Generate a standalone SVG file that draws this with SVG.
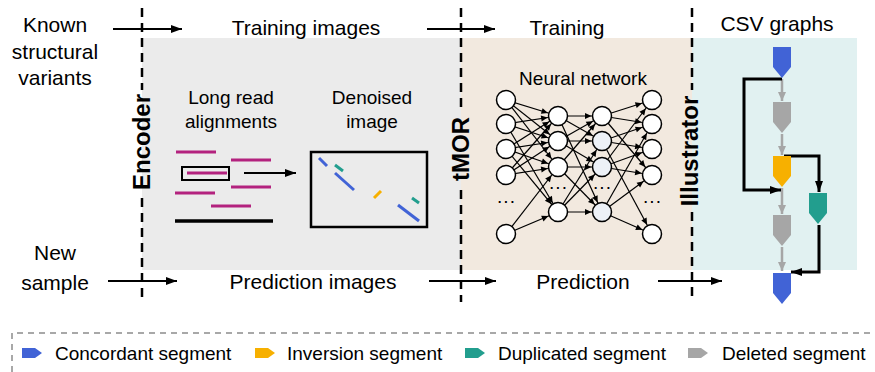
<svg xmlns="http://www.w3.org/2000/svg" width="875" height="372" viewBox="0 0 875 372">
<style>
  text { font-family: "Liberation Sans", Arial, sans-serif; fill: #000; }
  .lbl { font-size: 21px; }
  .in { font-size: 19px; }
  .rot { font-size: 24px; font-weight: bold; }
  .leg { font-size: 19px; }
  .dash { stroke: #000; stroke-width: 2.5; stroke-dasharray: 9 6; fill: none; }
  .arr { stroke: #000; stroke-width: 2; fill: none; marker-end: url(#ah); }
  .nn { stroke: #000; stroke-width: 1.2; fill: none; marker-end: url(#nh); }
  .node { fill: #fff; stroke: #000; stroke-width: 1.5; }
  .node2 { fill: #edf1f7; stroke: #000; stroke-width: 1.5; }
  .mag { stroke: #b3227e; stroke-width: 3; }
  .seg { stroke-width: 3; stroke-linecap: butt; }
  .garr { stroke: #a6a6a6; stroke-width: 2.5; fill: none; marker-end: url(#gh); }
  .barr { stroke: #000; stroke-width: 3; fill: none; marker-end: url(#bh); }
</style>
<defs>
  <marker id="ah" markerUnits="userSpaceOnUse" markerWidth="12" markerHeight="10" refX="11" refY="5" orient="auto" overflow="visible">
    <path d="M0,1 L11,5 L0,9 Z" fill="#000"/>
  </marker>
  <marker id="nh" markerUnits="userSpaceOnUse" markerWidth="22" markerHeight="8" refX="20.5" refY="3" orient="auto" overflow="visible">
    <path d="M3.5,0 L10,3 L3.5,6 Z" fill="#000"/>
  </marker>
  <marker id="gh" markerUnits="userSpaceOnUse" markerWidth="10" markerHeight="10" refX="9" refY="4.5" orient="auto" overflow="visible">
    <path d="M0,0.5 L9,4.5 L0,8.5 Z" fill="#a6a6a6"/>
  </marker>
  <marker id="bh" markerUnits="userSpaceOnUse" markerWidth="12" markerHeight="10" refX="11" refY="5" orient="auto" overflow="visible">
    <path d="M0,1 L11,5 L0,9 Z" fill="#000"/>
  </marker>
</defs>

<g id="backgrounds">
  <rect x="142" y="38" width="319" height="232" fill="#ebebeb"/>
  <rect x="461" y="38" width="231" height="232" fill="#f2e9df"/>
  <rect x="692" y="38" width="165" height="232" fill="#e1f1f1"/>
</g>

<g id="dividers">
  <line class="dash" x1="142" y1="8" x2="142" y2="90"/>
  <line class="dash" x1="142" y1="198" x2="142" y2="302"/>
  <line class="dash" x1="461" y1="8" x2="461" y2="108"/>
  <line class="dash" x1="461" y1="190" x2="461" y2="302"/>
  <line class="dash" x1="692" y1="8" x2="692" y2="90"/>
  <line class="dash" x1="692" y1="212" x2="692" y2="302"/>
</g>

<g id="stage-labels">
  <text class="rot" text-anchor="middle" transform="translate(150,142) rotate(-90)">Encoder</text>
  <text class="rot" text-anchor="middle" transform="translate(469,149) rotate(-90)">tMOR</text>
  <text class="rot" text-anchor="middle" transform="translate(698,151) rotate(-90)">Illustrator</text>
</g>

<g id="io-labels">
  <text class="lbl" text-anchor="middle" x="55" y="32">Known</text>
  <text class="lbl" text-anchor="middle" x="55" y="59">structural</text>
  <text class="lbl" text-anchor="middle" x="55" y="85">variants</text>
  <text class="lbl" text-anchor="middle" x="306" y="35">Training images</text>
  <text class="lbl" text-anchor="middle" x="567" y="35">Training</text>
  <text class="lbl" text-anchor="middle" x="777" y="31">CSV graphs</text>
  <text class="lbl" text-anchor="middle" x="55" y="260">New</text>
  <text class="lbl" text-anchor="middle" x="55" y="290">sample</text>
  <text class="lbl" text-anchor="middle" x="313" y="289">Prediction images</text>
  <text class="lbl" text-anchor="middle" x="583" y="289">Prediction</text>
</g>

<g id="encoder-panel">
  <text class="in" text-anchor="middle" x="231" y="104">Long read</text>
  <text class="in" text-anchor="middle" x="231" y="128">alignments</text>
  <line class="mag" x1="176" y1="152" x2="216" y2="152"/>
  <line class="mag" x1="231" y1="160" x2="271" y2="160"/>
  <line class="mag" x1="187" y1="173" x2="227" y2="173"/>
  <rect x="182" y="167" width="47" height="13" fill="none" stroke="#000" stroke-width="2"/>
  <line class="mag" x1="231" y1="187" x2="271" y2="187"/>
  <line class="mag" x1="175" y1="193" x2="215" y2="193"/>
  <line class="mag" x1="211" y1="206" x2="251" y2="206"/>
  <line x1="175" y1="221" x2="273" y2="221" stroke="#000" stroke-width="3.5"/>
  <text class="in" text-anchor="middle" x="372" y="104">Denoised</text>
  <text class="in" text-anchor="middle" x="372" y="128">image</text>
  <rect x="311" y="152" width="116" height="75" fill="none" stroke="#000" stroke-width="2.5"/>
  <line class="seg" stroke="#4163d6" x1="319" y1="158" x2="327" y2="166"/>
  <line class="seg" stroke="#229e8e" x1="335" y1="165" x2="343" y2="171"/>
  <line class="seg" stroke="#4163d6" x1="335" y1="173" x2="354" y2="190"/>
  <line class="seg" stroke="#f7b000" x1="374" y1="198" x2="381" y2="191"/>
  <line class="seg" stroke="#229e8e" x1="412" y1="198" x2="419" y2="203"/>
  <line class="seg" stroke="#4163d6" x1="398" y1="205" x2="419" y2="221"/>
</g>

<g id="connectors">
  <line class="arr" x1="113" y1="29" x2="182" y2="29"/>
  <line class="arr" x1="427" y1="29" x2="495" y2="29"/>
  <line class="arr" x1="108" y1="281" x2="177" y2="281"/>
  <line class="arr" x1="429" y1="281" x2="496" y2="281"/>
  <line class="arr" x1="658" y1="281" x2="722" y2="281"/>
  <line class="arr" x1="244" y1="173" x2="296" y2="173"/>
  <line class="nn" x1="506" y1="100" x2="558" y2="116"/>
  <line class="nn" x1="506" y1="100" x2="558" y2="141"/>
  <line class="nn" x1="506" y1="100" x2="558" y2="167"/>
  <line class="nn" x1="506" y1="124" x2="558" y2="116"/>
  <line class="nn" x1="506" y1="124" x2="558" y2="141"/>
  <line class="nn" x1="506" y1="124" x2="558" y2="212"/>
  <line class="nn" x1="506" y1="149" x2="558" y2="116"/>
  <line class="nn" x1="506" y1="149" x2="558" y2="141"/>
  <line class="nn" x1="506" y1="149" x2="558" y2="167"/>
  <line class="nn" x1="506" y1="149" x2="558" y2="212"/>
  <line class="nn" x1="506" y1="175" x2="558" y2="116"/>
  <line class="nn" x1="506" y1="175" x2="558" y2="141"/>
  <line class="nn" x1="506" y1="175" x2="558" y2="167"/>
  <line class="nn" x1="506" y1="234" x2="558" y2="167"/>
  <line class="nn" x1="506" y1="234" x2="558" y2="212"/>
  <line class="nn" x1="558" y1="116" x2="602" y2="116"/>
  <line class="nn" x1="558" y1="116" x2="602" y2="141"/>
  <line class="nn" x1="558" y1="116" x2="602" y2="212"/>
  <line class="nn" x1="558" y1="141" x2="602" y2="116"/>
  <line class="nn" x1="558" y1="141" x2="602" y2="141"/>
  <line class="nn" x1="558" y1="141" x2="602" y2="167"/>
  <line class="nn" x1="558" y1="167" x2="602" y2="116"/>
  <line class="nn" x1="558" y1="167" x2="602" y2="167"/>
  <line class="nn" x1="558" y1="167" x2="602" y2="212"/>
  <line class="nn" x1="558" y1="212" x2="602" y2="141"/>
  <line class="nn" x1="558" y1="212" x2="602" y2="167"/>
  <line class="nn" x1="558" y1="212" x2="602" y2="212"/>
  <line class="nn" x1="602" y1="116" x2="652" y2="100"/>
  <line class="nn" x1="602" y1="116" x2="652" y2="124"/>
  <line class="nn" x1="602" y1="116" x2="652" y2="175"/>
  <line class="nn" x1="602" y1="141" x2="652" y2="124"/>
  <line class="nn" x1="602" y1="141" x2="652" y2="149"/>
  <line class="nn" x1="602" y1="141" x2="652" y2="234"/>
  <line class="nn" x1="602" y1="167" x2="652" y2="100"/>
  <line class="nn" x1="602" y1="167" x2="652" y2="149"/>
  <line class="nn" x1="602" y1="167" x2="652" y2="175"/>
  <line class="nn" x1="602" y1="212" x2="652" y2="124"/>
  <line class="nn" x1="602" y1="212" x2="652" y2="175"/>
  <line class="nn" x1="602" y1="212" x2="652" y2="234"/>
  <line class="garr" x1="782" y1="79" x2="782" y2="101"/>
  <line class="garr" x1="782" y1="134" x2="782" y2="155"/>
  <line class="garr" x1="782" y1="188" x2="782" y2="214"/>
  <line class="garr" x1="782" y1="247" x2="782" y2="271"/>
  <path class="barr" d="M782,79 H744 V190 H781"/>
  <path class="barr" d="M784,156 H819 V192"/>
  <path class="barr" d="M819,225 V272 H791"/>
</g>

<g id="neural-network">
  <text class="in" text-anchor="middle" x="583" y="85">Neural network</text>
  <circle class="node" cx="506" cy="100" r="9.5"/>
  <circle class="node" cx="506" cy="124" r="9.5"/>
  <circle class="node" cx="506" cy="149" r="9.5"/>
  <circle class="node" cx="506" cy="175" r="9.5"/>
  <circle class="node" cx="506" cy="234" r="9.5"/>
  <circle class="node" cx="558" cy="116" r="9.5"/>
  <circle class="node" cx="558" cy="141" r="9.5"/>
  <circle class="node" cx="558" cy="167" r="9.5"/>
  <circle class="node" cx="558" cy="212" r="9.5"/>
  <circle class="node" cx="602" cy="116" r="9.5"/>
  <circle class="node2" cx="602" cy="141" r="9.5"/>
  <circle class="node2" cx="602" cy="167" r="9.5"/>
  <circle class="node2" cx="602" cy="212" r="9.5"/>
  <circle class="node" cx="652" cy="100" r="9.5"/>
  <circle class="node" cx="652" cy="124" r="9.5"/>
  <circle class="node" cx="652" cy="149" r="9.5"/>
  <circle class="node" cx="652" cy="175" r="9.5"/>
  <circle class="node" cx="652" cy="234" r="9.5"/>
  <text class="in" text-anchor="middle" x="506" y="207" font-size="14">···</text>
  <text class="in" text-anchor="middle" x="558" y="193" font-size="14">···</text>
  <text class="in" text-anchor="middle" x="602" y="193" font-size="14">···</text>
  <text class="in" text-anchor="middle" x="652" y="207" font-size="14">···</text>
</g>

<g id="csv-graph">
  <path id="seg-top" d="M773,47 H791 V67 L782,78 L773,67 Z" fill="#4163d6"/>
  <path id="seg-del1" d="M773,102 H791 V122 L782,133 L773,122 Z" fill="#a6a6a6"/>
  <path id="seg-inv" d="M773,156 H791 V176 L782,187 L773,176 Z" fill="#f7b000"/>
  <path id="seg-del2" d="M773,215 H791 V235 L782,246 L773,235 Z" fill="#a6a6a6"/>
  <path id="seg-dup" d="M809,193 H827 V213 L818,224 L809,213 Z" fill="#229e8e"/>
  <path id="seg-bot" d="M773,273 H791 V293 L782,304 L773,293 Z" fill="#4163d6"/>
</g>

<g id="legend">
  <path d="M12,372 V333 H875" fill="none" stroke="#8c8c8c" stroke-width="1.5" stroke-dasharray="6 5"/>
  <path d="M22,348 H35 L42,353 L35,358 H22 Z" fill="#4163d6"/>
  <text class="leg" x="55" y="360">Concordant segment</text>
  <path d="M255,348 H268 L275,353 L268,358 H255 Z" fill="#f7b000"/>
  <text class="leg" x="287" y="360">Inversion segment</text>
  <path d="M465,348 H478 L485,353 L478,358 H465 Z" fill="#229e8e"/>
  <text class="leg" x="498" y="360">Duplicated segment</text>
  <path d="M688,348 H701 L708,353 L701,358 H688 Z" fill="#a6a6a6"/>
  <text class="leg" x="722" y="360">Deleted segment</text>
</g>
</svg>
